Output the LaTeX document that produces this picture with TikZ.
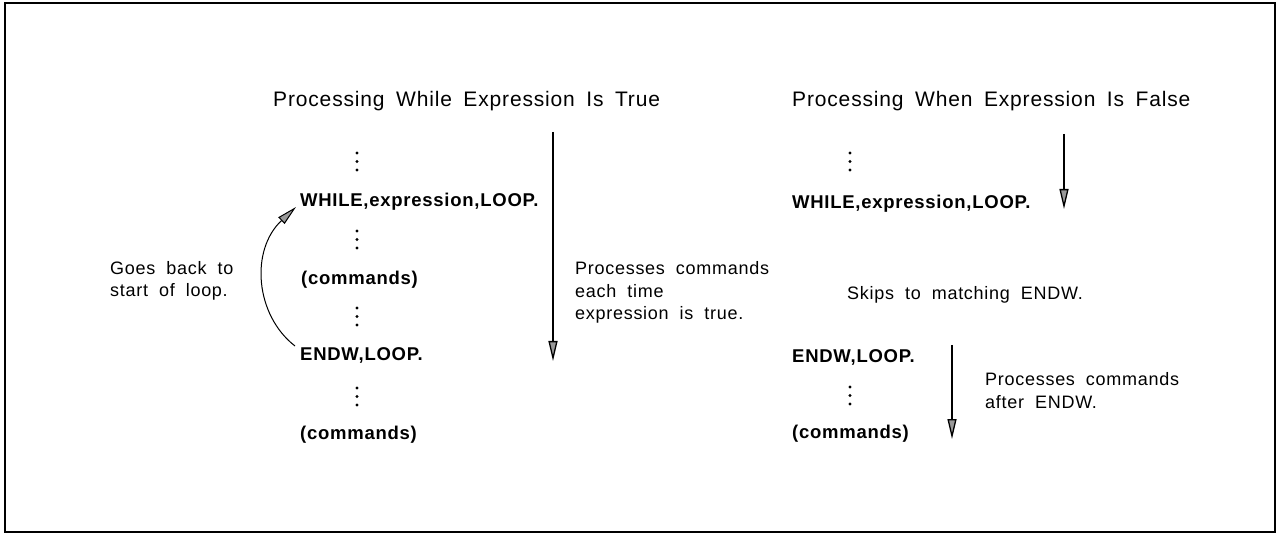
\documentclass[tikz,border=0pt]{standalone}
\usepackage{fontspec}
\setmainfont{Liberation Sans}[LetterSpace=4.0]
\usetikzlibrary{arrows.meta}

% type sizes with widened word spaces
\newcommand{\headfont}{\fontsize{21}{25}\selectfont\spaceskip=11.5pt plus 2pt minus 1pt\relax}
\newcommand{\notefont}{\fontsize{18}{22.5}\selectfont\spaceskip=11pt plus 2pt minus 1pt\relax}

\tikzset{
  heading/.style={anchor=base west, inner sep=0pt, font=\headfont},
  code/.style={anchor=base west, inner sep=0pt, font=\bfseries\fontsize{18.5}{22}\selectfont},
  % multi-line notes: the node's base is the baseline of the last line
  note/.style={anchor=base west, inner sep=0pt, align=left, font=\notefont},
  flow/.style={line width=1.3pt, -{Triangle[length=20pt,width=9pt,fill=black!40]}},
  dotmark/.style={fill=black, draw=none},
}
\newcommand{\vdotsat}[2]{% x, top y of a vertical ellipsis
  \foreach \k in {0,1,2} {\fill[dotmark] (#1,#2+8.5*\k) circle (1.7);}}

\begin{document}
\begin{tikzpicture}[x=1pt,y=-1pt]
\useasboundingbox (0,0) rectangle (1277,534);
\draw[line width=1.4pt] (5,3) rectangle (1275,532);

% ---- left column: loop body runs while the expression is true
\node[heading] (titleT) at (273,107) {Processing While Expression Is True};
\vdotsat{357}{153}
\node[code] (whileT) at (300,207) {WHILE,expression,LOOP.};
\vdotsat{357}{231}
\node[code] (cmdT) at (301,285) {(commands)};
\vdotsat{357}{308}
\node[code] (endwT) at (300,361) {ENDW,LOOP.};
\vdotsat{357}{388}
\node[code] (cmdT2) at (300,439) {(commands)};

\node[note] (backnote) at (110,297) {Goes back to\\start of loop.};
\node[note] (truenote) at (575,320) {Processes commands\\each time\\expression is true.};

\coordinate (loopfrom) at (295,346);
\coordinate (loopto) at (296,207);
\draw[flow, line width=1pt] (loopfrom) .. controls (255,315) and (250,250) .. (loopto);

\coordinate (truetop) at (553,132);
\coordinate (truebot) at (553,361);
\draw[flow] (truetop) -- (truebot);

% ---- right column: expression is false, skip to ENDW
\node[heading] (titleF) at (792,107) {Processing When Expression Is False};
\vdotsat{850}{153}
\node[code] (whileF) at (792,209) {WHILE,expression,LOOP.};
\coordinate (skiptop) at (1064,134);
\coordinate (skipbot) at (1064,209);
\draw[flow] (skiptop) -- (skipbot);

\node[note] (skipnote) at (847,300) {Skips to matching ENDW.};

\node[code] (endwF) at (792,363) {ENDW,LOOP.};
\vdotsat{850}{387}
\node[code] (cmdF) at (792,438) {(commands)};
\coordinate (aftertop) at (952,345);
\coordinate (afterbot) at (952,439);
\draw[flow] (aftertop) -- (afterbot);

\node[note] (afternote) at (985,408) {Processes commands\\after ENDW.};
\end{tikzpicture}
\end{document}
